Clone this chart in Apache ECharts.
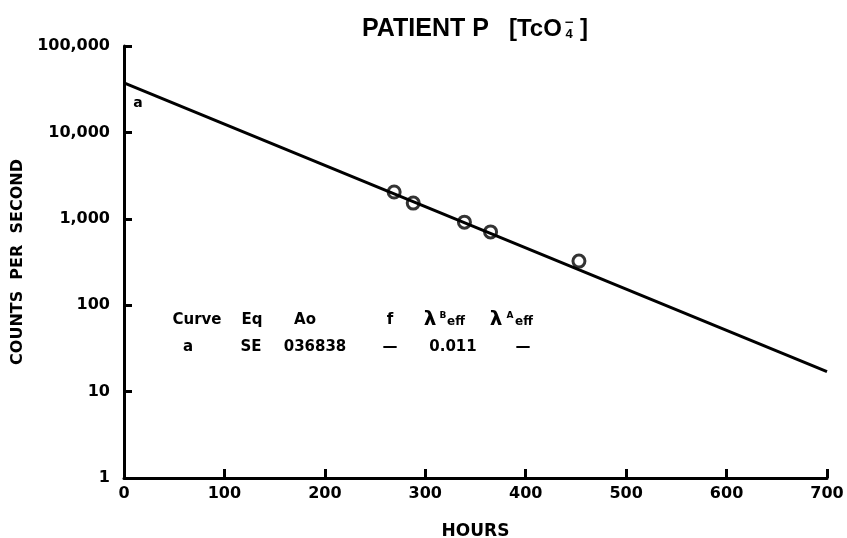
<!DOCTYPE html>
<html>
<head>
<meta charset="utf-8">
<script src="https://cdn.jsdelivr.net/npm/echarts@6/dist/echarts.min.js"></script>
<style>
  html, body { margin: 0; padding: 0; background: #fff; }
  #main { width: 847px; height: 538px; }
</style>
</head>
<body>
<div id="main"></div>
<script>
// measured counts (hours, counts per second)
const hours = [269, 288, 339, 365, 453];
const counts = [2040, 1520, 915, 705, 324];
// fitted curve a, end points
const fitHours = [0, 700];
const fitCounts = [37500, 17];
const xTicks = [0, 100, 200, 300, 400, 500, 600, 700];
// table of fit parameters
const tableHead = ["Curve", "Eq", "Ao", "f"];
const tableRow = ["a", "SE", "036838", "\u2014", "0.011", "\u2014"];

let chart = echarts.init(document.getElementById("main"));
let font = "DejaVu Sans";
let titleFont = "Liberation Sans";

let pts = hours.map((h, i) => [h, counts[i]]);
let fit = fitHours.map((h, i) => [h, fitCounts[i]]);

let headX = [197, 252, 305, 390];
let rowX = [188, 251, 315, 390, 453, 523];

function txt(s, x, y, size, fam, align) {
  return {
    type: "text", x: x, y: y, silent: true,
    style: {
      text: s,
      font: "bold " + size + "px " + (fam || font),
      fill: "#000",
      align: align || "center",
      verticalAlign: "middle",
    },
  };
}

let graphics = [];
tableHead.forEach((t, i) => graphics.push(txt(t, headX[i], 320, 15)));
tableRow.forEach((t, i) => graphics.push(txt(t, rowX[i], 347, 15)));
// lambda headers
graphics.push(txt("\u03bb", 430, 320, 20));
graphics.push(txt("B", 443, 316, 9));
graphics.push(txt("eff", 456, 322, 12));
graphics.push(txt("\u03bb", 496, 320, 20));
graphics.push(txt("A", 510, 316, 9));
graphics.push(txt("eff", 524, 322, 12));
// title
graphics.push(txt("PATIENT P", 362, 29, 25, titleFont, "left"));
graphics.push(txt("[TcO", 509, 29, 24, titleFont, "left"));
graphics.push(txt("\u2212", 569, 23, 12, font));
graphics.push(txt("4", 569, 34, 13, titleFont));
graphics.push(txt("]", 580, 29, 24, titleFont, "left"));
// curve label
graphics.push(txt("a", 138, 103, 14));

let option = {
  animation: false,
  backgroundColor: "#fff",
  grid: { left: 124, right: 20, top: 46, bottom: 60, outerBoundsMode: "none", containLabel: false },
  xAxis: {
    type: "value",
    min: 0,
    max: 700,
    interval: 100,
    name: "HOURS",
    nameLocation: "middle",
    nameGap: 45,
    nameTextStyle: { fontFamily: font, fontWeight: "bold", fontSize: 17, color: "#000" },
    axisLine: { lineStyle: { color: "#000", width: 3 } },
    axisTick: { inside: true, length: 9, lineStyle: { color: "#000", width: 3 } },
    axisLabel: {
      margin: 8,
      fontFamily: font, fontWeight: "bold", fontSize: 16, color: "#000",
      customValues: xTicks,
    },
    splitLine: { show: false },
  },
  yAxis: {
    type: "log",
    logBase: 10,
    min: 1,
    max: 100000,
    name: "COUNTS  PER  SECOND",
    nameLocation: "middle",
    nameGap: 97,
    nameTextStyle: { fontFamily: font, fontWeight: "bold", fontSize: 16, color: "#000" },
    axisLine: { show: true, lineStyle: { color: "#000", width: 3 } },
    axisTick: { inside: true, length: 8, lineStyle: { color: "#000", width: 3 } },
    axisLabel: {
      margin: 14,
      fontFamily: font, fontWeight: "bold", fontSize: 16, color: "#000",
      formatter: (v) => Math.round(v).toLocaleString("en-US"),
    },
    splitLine: { show: false },
  },
  series: [
    {
      name: "fit",
      type: "line",
      data: fit,
      symbol: "none",
      lineStyle: { color: "#000", width: 3 },
    },
    {
      name: "counts",
      type: "scatter",
      data: pts,
      symbol: "circle",
      symbolSize: 12,
      itemStyle: { color: "rgba(255,255,255,0)", borderColor: "#000", borderWidth: 3 },
    },
  ],
  graphic: graphics,
};
chart.setOption(option);
</script>
</body>
</html>
